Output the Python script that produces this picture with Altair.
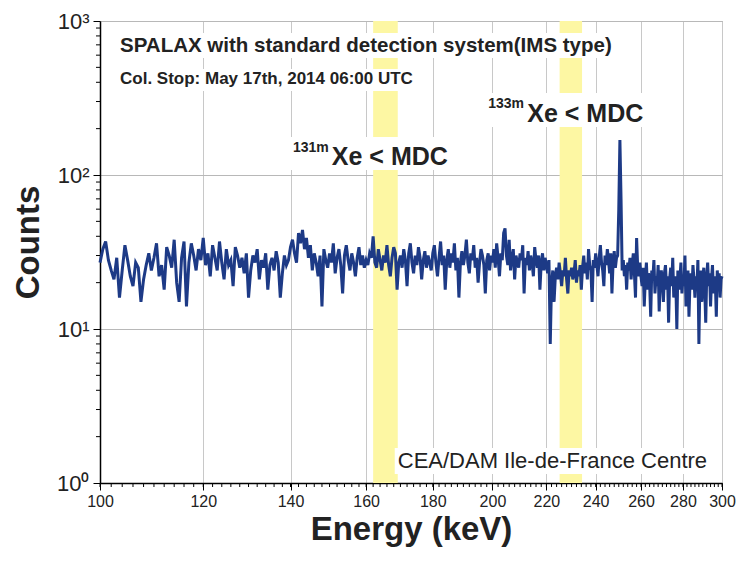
import altair as alt
import pandas as pd

# ---- spectrum: counts per 0.5 keV channel, starting at 100 keV ----
E0, DE = 100.0, 0.5
r100 = [27, 33, 37, 28, 24, 21, 29, 16, 24, 35, 28, 22, 19, 27, 25, 15, 21, 26, 31, 24]
r110 = [29, 36, 22, 26, 18, 34, 30, 25, 38, 20, 15, 29, 37, 14, 27, 36, 30, 24, 33, 28]
r120 = [39, 26, 31, 22, 35, 29, 24, 37, 27, 21, 33, 26, 28, 19, 34, 30, 25, 29, 23, 31]
r130 = [16, 24, 30, 27, 33, 21, 28, 25, 31, 18, 26, 29, 24, 32, 27, 16, 23, 30, 26, 28]
r140 = [34, 38, 31, 27, 42, 36, 44, 33, 39, 29, 35, 24, 31, 27, 22, 30, 14, 33, 28, 25]
r150 = [31, 27, 36, 23, 29, 33, 26, 17, 30, 35, 28, 24, 31, 27, 22, 29, 34, 26, 30, 25]
r160 = [28, 26, 31, 29, 40, 27, 25, 33, 28, 24, 30, 27, 35, 26, 22, 29, 34, 31, 18, 27]
r170 = [30, 25, 33, 28, 19, 31, 36, 27, 23, 30, 26, 34, 29, 21, 28, 32, 25, 30, 27, 24]
r180 = [31, 35, 27, 22, 29, 37, 26, 30, 18, 28, 33, 25, 31, 27, 36, 24, 29, 16, 27, 32]
r190 = [26, 30, 38, 27, 23, 31, 28, 35, 25, 29, 20, 27, 33, 30, 26, 17, 28, 31, 24, 30]
r200 = [27, 33, 25, 36, 29, 22, 31, 28, 42, 45, 30, 26, 38, 24, 29, 33, 21, 30, 27, 25]
r210 = [31, 28, 35, 17, 29, 26, 32, 24, 30, 27, 22, 34, 28, 25, 30, 18, 27, 31, 24, 29]
r220 = [26, 23, 28, 8, 20, 24, 15, 22, 25, 21, 27, 23, 19, 24, 22, 29, 21, 17, 24, 22]
r230 = [25, 21, 23, 28, 20, 24, 22, 26, 18, 25, 30, 23, 27, 21, 33, 26, 24, 15, 28, 25]
r240 = [31, 26, 22, 29, 35, 27, 24, 19, 30, 26, 33, 28, 23, 31, 17, 27, 32, 25, 29, 30]
r250 = [60, 169, 70, 24, 28, 22, 26, 18, 27, 24, 29, 21, 26, 31, 23, 16, 39, 25, 22, 27]
r260 = [22, 19, 25, 14, 21, 27, 18, 23, 20, 12, 24, 21, 28, 17, 22, 19, 26, 13, 21, 24]
r270 = [20, 15, 23, 26, 18, 22, 11, 21, 25, 19, 29, 16, 22, 20, 10, 24, 18, 21, 27, 17]
r280 = [22, 19, 30, 14, 21, 24, 12, 20, 23, 18, 26, 21, 16, 22, 19, 28, 8, 20, 24, 15]
r290 = [21, 25, 18, 11, 22, 27, 19, 23, 14, 21, 26, 17, 22, 20, 12, 24, 19, 23, 16, 21]
r300 = [22]
counts = (r100 + r110 + r120 + r130 + r140 + r150 + r160 + r170 + r180 + r190 +
          r200 + r210 + r220 + r230 + r240 + r250 + r260 + r270 + r280 + r290 + r300)
energy = [E0 + DE * i for i in range(len(counts))]

# ---- highlighted windows (keV) ----
band_start = [162.0, 225.2]
band_end = [169.2, 234.3]

# ---- ticks ----
x_major = [100, 120, 140, 160, 180, 200, 220, 240, 260, 280, 300]
x_minor = list(range(100, 301, 2))
y_major = [1, 10, 100, 1000]
y_minor = [m * 10 ** k for k in range(3) for m in range(2, 10)]

# ---- annotations (anchor: left / baseline, in keV and counts) ----
ann_text = ["SPALAX with standard detection system(IMS type)",
            "Col. Stop: May 17th, 2014 06:00 UTC",
            "131m", "Xe < MDC", "133m", "Xe < MDC",
            "CEA/DAM Ile-de-France Centre"]
ann_x = [103.6, 103.6, 140.6, 150.6, 198.5, 212.7, 169.2]
ann_y = [629, 390, 141, 116, 272, 221, 1.25]
ann_size = [20.5, 17, 14, 25, 14, 25, 22]
ann_weight = ["bold", "bold", "bold", "bold", "bold", "bold", "normal"]

# white boxes behind the annotation texts (keV, counts)
box_x0 = [103.2, 103.2, 139.9, 197.4, 168.3]
box_x1 = [250.6, 174.3, 185.5, 262.1, 292.9]
box_y0 = [575, 351, 107.8, 205, 1.144]
box_y1 = [836, 488, 176.6, 341, 1.688]

FONT = "Liberation Sans"
W, H = 622, 462

spec_df = pd.DataFrame({"energy": energy, "counts": counts})
band_df = pd.DataFrame({"start": band_start, "end": band_end,
                        "lo": [1] * len(band_start), "hi": [1000] * len(band_start)})
box_df = pd.DataFrame({"x0": box_x0, "x1": box_x1, "y0": box_y0, "y1": box_y1})
xminor_df = pd.DataFrame({"e": x_minor})
yminor_df = pd.DataFrame({"c": y_minor})

xs = alt.Scale(type="log", domain=[100, 300], nice=False)
ys = alt.Scale(type="log", domain=[1, 1000], nice=False)

bands = alt.Chart(band_df).mark_rect(color="#fdf7a3").encode(
    x=alt.X("start:Q", scale=xs, axis=None), x2="end:Q",
    y=alt.Y("lo:Q", scale=ys, axis=None), y2="hi:Q",
)

boxes = alt.Chart(box_df).mark_rect(color="white").encode(
    x=alt.X("x0:Q", scale=xs, axis=None), x2="x1:Q",
    y=alt.Y("y0:Q", scale=ys, axis=None), y2="y1:Q",
)

# minor tick marks along the axes
xminor = alt.Chart(xminor_df).mark_rule(color="black", strokeWidth=1).encode(
    x=alt.X("e:Q", scale=xs, axis=None),
    y=alt.value(H), y2=alt.value(H + 4),
)
yminor = alt.Chart(yminor_df).mark_rule(color="black", strokeWidth=1).encode(
    y=alt.Y("c:Q", scale=ys, axis=None),
    x=alt.value(-4), x2=alt.value(0),
)

ylabel = ("datum.value == 1 ? '10⁰' : datum.value == 10 ? '10¹' : "
          "datum.value == 100 ? '10²' : '10³'")

line = alt.Chart(spec_df).mark_line(color="#1d3a86", strokeWidth=3).encode(
    x=alt.X("energy:Q", scale=xs,
            axis=alt.Axis(values=x_major, format="d", title="Energy (keV)",
                          orient="bottom", grid=True, gridColor="#c8c8c8",
                          tickSize=7, tickColor="black", domainColor="black",
                          domainWidth=1.5, labelFontSize=16, labelPadding=3,
                          labelFlush=False, labelOverlap=False,
                          labelColor="#222", labelFont=FONT,
                          titleFont=FONT, titleFontSize=33, titleFontWeight="bold",
                          titleColor="#222", titleX=311, titleY=56,
                          titleBaseline="alphabetic", titleAlign="center")),
    y=alt.Y("counts:Q", scale=ys,
            axis=alt.Axis(values=y_major, labelExpr=ylabel, title="Counts",
                          orient="left", grid=True, gridColor="#b8b8b8",
                          tickSize=7, tickColor="black", domainColor="black",
                          domainWidth=1.5, labelFontSize=22, labelPadding=4,
                          labelColor="#222", labelFont=FONT,
                          titleFont=FONT, titleFontSize=33, titleFontWeight="bold",
                          titleColor="#222", titleX=-72, titleY=221, titleAngle=-90,
                          titleBaseline="middle", titleAlign="center")),
)

layers = [bands, boxes, xminor, yminor, line]
for t, xv, yv, s, w in zip(ann_text, ann_x, ann_y, ann_size, ann_weight):
    d = pd.DataFrame({"x": [xv], "y": [yv], "t": [t]})
    layers.append(
        alt.Chart(d).mark_text(align="left", baseline="alphabetic", font=FONT,
                               fontSize=s, fontWeight=w, color="#222").encode(
            x=alt.X("x:Q", scale=xs, axis=None),
            y=alt.Y("y:Q", scale=ys, axis=None),
            text="t:N",
        )
    )

chart = alt.layer(*layers).resolve_axis(x="independent", y="independent").properties(
    width=W, height=H, autosize="none",
    padding={"left": 100, "top": 21, "right": 15, "bottom": 81},
    background="white",
).configure_view(stroke="#9a9a9a")

chart.save("out.html", embed_options={"renderer": "svg", "actions": False})
